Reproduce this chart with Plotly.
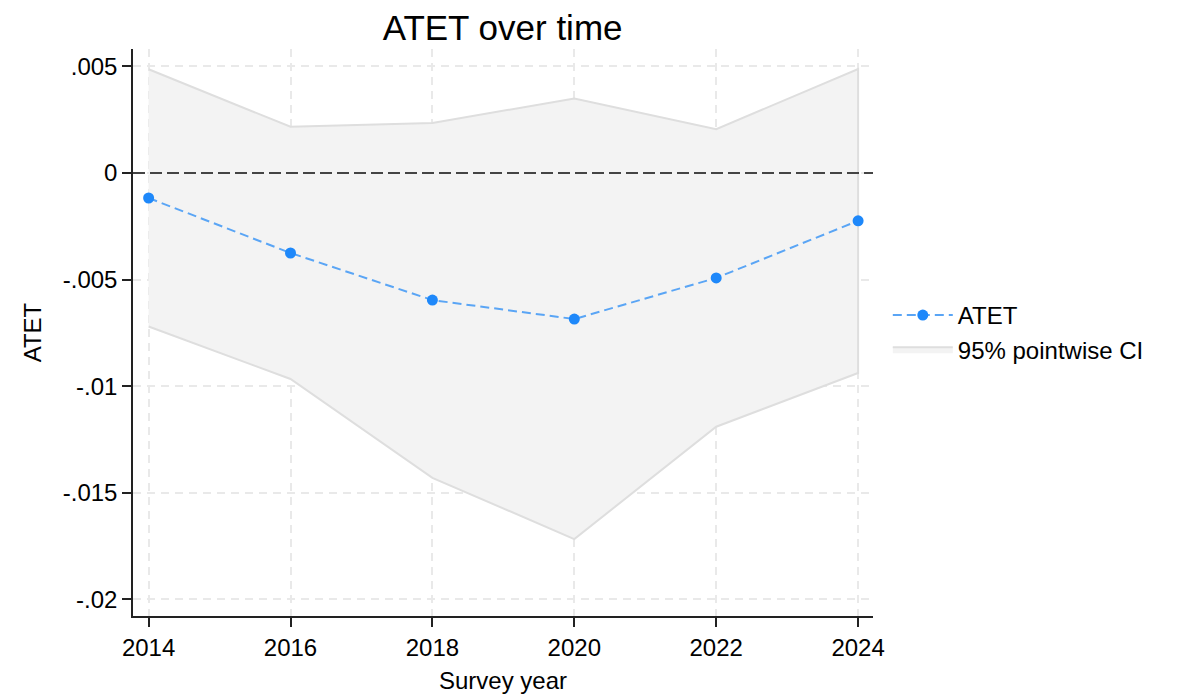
import plotly.graph_objects as go

years = [2014, 2016, 2018, 2020, 2022, 2024]
atet = [-0.00117, -0.00375, -0.00596, -0.00685, -0.00492, -0.00224]
ci_upper = [0.00487, 0.00217, 0.00235, 0.00350, 0.00206, 0.00488]
ci_lower = [-0.00720, -0.00966, -0.01430, -0.01717, -0.01190, -0.00938]
ytick_vals = [0.005, 0, -0.005, -0.01, -0.015, -0.02]
ytick_text = [".005", "0", "-.005", "-.01", "-.015", "-.02"]

FONT = "Liberation Sans, Arial, Helvetica, sans-serif"

fig = go.Figure()
fig.add_trace(go.Scatter(
    x=years + years[::-1],
    y=ci_upper + ci_lower[::-1],
    fill="toself",
    fillcolor="#f3f3f3",
    line=dict(color="#dedede", width=2),
    mode="lines",
    name="95% pointwise CI",
    hoverinfo="skip",
))
fig.add_trace(go.Scatter(
    x=years, y=atet,
    mode="lines+markers",
    line=dict(color="#5aa5f5", width=2, dash="9px,5px"),
    marker=dict(color="#1e88fa", size=11),
    name="ATET",
))
fig.add_shape(type="line", xref="paper", yref="y", x0=0, x1=1, y0=0, y1=0,
              line=dict(color="#444444", width=2, dash="12px,5px"), layer="above")

fig.update_layout(
    width=1179, height=700,
    margin=dict(l=125, r=314, t=41, b=92, autoexpand=False),
    paper_bgcolor="white", plot_bgcolor="white",
    font=dict(family=FONT, size=24, color="black"),
    title=dict(text="ATET over time", x=0.4195, xanchor="center", y=0.972, yanchor="middle",
               font=dict(size=35, family=FONT)),
    showlegend=True,
    legend=dict(x=1.02, xanchor="left", y=0.5, yanchor="middle",
                font=dict(size=24), traceorder="reversed", tracegroupgap=6,
                itemwidth=60),
)
fig.update_xaxes(
    range=[2013.78, 2024.21],
    tickvals=years,
    showline=True, linecolor="#222", linewidth=1.5,
    ticks="outside", ticklen=9, tickcolor="#222", tickwidth=1.5,
    showgrid=True, gridcolor="#e9e9e9", griddash="8px,6px", gridwidth=1.5,
    zeroline=False, automargin=False,
    title=dict(text="Survey year", font=dict(size=24), standoff=13),
)
fig.update_yaxes(
    range=[-0.02078, 0.00582],
    tickvals=ytick_vals, ticktext=ytick_text,
    showline=True, linecolor="#222", linewidth=1.5,
    ticks="outside", ticklen=9, tickcolor="#222", tickwidth=1.5,
    showgrid=True, gridcolor="#e9e9e9", griddash="8px,6px", gridwidth=1.5,
    zeroline=False, automargin=False,
    title=dict(text="ATET", font=dict(size=24), standoff=14),
)

fig.write_html("out.html")
